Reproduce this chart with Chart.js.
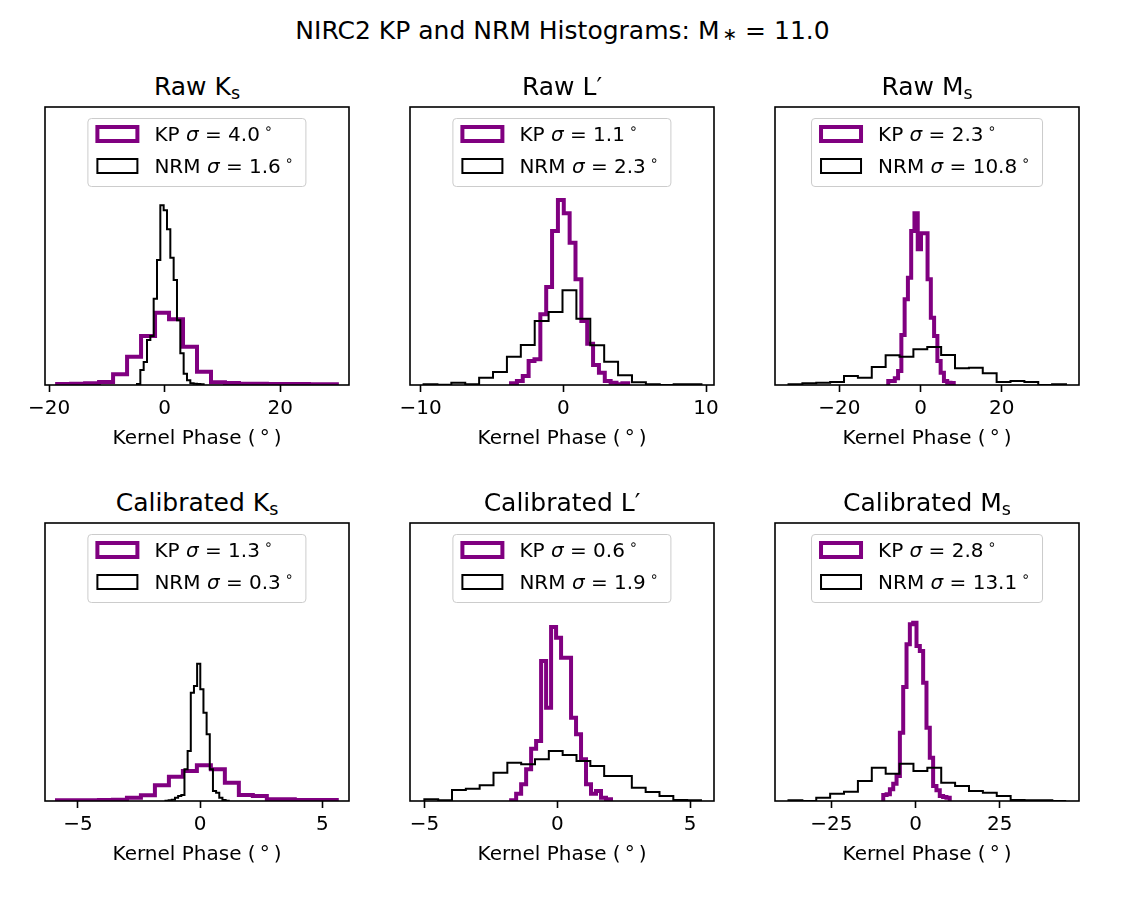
<!DOCTYPE html>
<html>
<head>
<meta charset="utf-8">
<title>NIRC2 KP and NRM Histograms</title>
<script src="https://cdn.jsdelivr.net/npm/chart.js@4.4.1/dist/chart.umd.min.js"></script>
<style>
  body { margin: 0; background: #fff; font-family: "DejaVu Sans", sans-serif; color: #000; }
  #fig { position: relative; width: 1125px; height: 900px; overflow: hidden; }
  #fig canvas { position: absolute; }
  .suptitle { position: absolute; left: 0; width: 1125px; text-align: center; font-size: 25px; line-height: 1; white-space: nowrap; }
  .ptitle { position: absolute; width: 304px; text-align: center; font-size: 25px; line-height: 1; white-space: nowrap; }
  .sub { font-size: 70%; position: relative; top: 0.22em; }
  .star { font-size: 70%; position: relative; top: 0.05em; margin-left: 3px; }
  .legend { position: absolute; transform: translateX(-50%); border: 1px solid #cccccc; border-radius: 4px;
            background: rgba(255,255,255,0.8); padding: 3px 12px 8px 7px; font-size: 20px; }
  .row { display: flex; align-items: center; height: 24px; white-space: nowrap; }
  .row + .row { margin-top: 7.5px; }
  .handle { box-sizing: border-box; margin-right: 15px; }
  .handle.kp { width: 44px; height: 18px; border: 4px solid #800080; }
  .handle.nrm { width: 42px; height: 16px; border: 2px solid #000; margin-left: 1px; margin-right: 16px; }
  .deg { font-size: 14px; position: relative; top: -8px; margin-left: 4px; }
</style>
</head>
<body>
<div id="fig">
  <div class="suptitle" style="top:18px">NIRC2 KP and NRM Histograms: M<span class="star">∗</span> = 11.0</div>
</div>
<script>
// --- Data ---
const panelNames = ['Raw K', 'Raw L', 'Raw M', 'Calibrated K', 'Calibrated L', 'Calibrated M'];
const panelMarks = ['s', '′', 's', 's', '′', 's'];
const tickValues = [[-20, 0, 20], [-10, 0, 10], [-20, 0, 20], [-5, 0, 5], [-5, 0, 5], [-25, 0, 25]];
const xLimits = [[-20.7, 31.9], [-10.74, 10.56], [-35.83, 39.0], [-6.35, 6.09], [-5.55, 5.9], [-41.7, 48.5]];
const kpSigma = ['4.0', '1.1', '2.3', '1.3', '0.6', '2.8'];
const nrmSigma = ['1.6', '2.3', '10.8', '0.3', '1.9', '13.1'];

// histogram ranges (first to last bin edge)
const kpRanges = [[-18.6, 29.8], [-3.66, 4.55], [-7.95, 8.17], [-5.86, 5.59], [-1.74, 2.02], [-9.58, 10.15]];
const nrmRanges = [[-4.78, 6.75], [-9.79, 9.68], [-32.5, 35.8], [-1.42, 1.17], [-5.01, 5.41], [-37.7, 44.7]];

// bin heights (arbitrary units, axis top = yTop)
const yTop = 278;
const rawKsKP = [1.0, 1.3, 1.7, 3.0, 10.7, 28.3, 49.0, 72.3, 65.7, 38.3, 13.3, 2.7, 2.0, 1.3, 1.3, 1.0, 1.0, 1.0, 0.7, 0.7];
const rawKsNRM = [1.0, 15.0, 23.0, 45.0, 49.0, 86.3, 125.0, 179.7, 174.7, 155.7, 127.3, 105.0, 64.7, 31.7, 11.3, 4.7, 1.7, 1.3, 1.0, 0.7];
const rawLpKP = [1.7, 4.0, 9.0, 24.0, 25.7, 70.7, 98.0, 154.0, 185.0, 171.7, 142.3, 105.7, 64.0, 41.3, 20.0, 12.3, 4.0, 2.3, 0.7, 1.7];
const rawLpNRM = [0.7, 0.3, 2.3, 0.7, 7.3, 13.0, 28.3, 40.0, 64.0, 73.0, 94.7, 66.3, 39.7, 23.3, 9.7, 2.7, 0.7, 0, 0.7, 0.7];
const rawMsKP = [4.0, 4.0, 6.7, 14.0, 50.0, 85.7, 107.3, 154.0, 171.7, 135.7, 151.7, 151.7, 105.7, 67.3, 49.0, 24.0, 12.3, 4.0, 2.3, 2.0];
const rawMsNRM = [0.7, 1.7, 2.3, 3.0, 9.0, 7.3, 18.0, 29.7, 28.3, 35.7, 38.0, 30.0, 16.7, 17.3, 11.7, 3.0, 4.0, 3.0, 0, 0.7];
const calKsKP = [0.7, 0.7, 0.7, 1.0, 1.3, 3.3, 5.7, 15.7, 24.3, 30.0, 35.7, 31.7, 18.3, 6.0, 5.0, 1.7, 1.7, 1.0, 1.0, 1.0];
const calKsNRM = [0.3, 0.7, 1.3, 3.3, 5.0, 6.0, 31.7, 50.0, 108.3, 115.0, 137.3, 111.7, 88.3, 66.7, 31.7, 10.0, 8.3, 3.3, 1.0, 0.3];
const calLpKP = [0.7, 7.3, 16.7, 31.7, 52.3, 60.0, 140.0, 93.3, 174.0, 163.3, 143.3, 143.3, 83.3, 66.7, 41.7, 16.7, 7.3, 10.0, 3.3, 1.7];
const calLpNRM = [1.7, 0.7, 11.0, 12.3, 15.7, 28.3, 38.3, 36.7, 41.7, 50.0, 46.0, 40.0, 35.0, 25.0, 25.0, 13.3, 9.0, 5.0, 1.0, 0.7];
const calMsKP = [6.0, 6.7, 11.7, 17.3, 25.0, 68.3, 114.0, 156.7, 176.7, 178.3, 155.0, 150.0, 118.3, 73.3, 43.3, 15.0, 10.7, 5.0, 4.0, 3.3];
const calMsNRM = [0.7, 0, 3.3, 7.3, 9.3, 20.0, 33.3, 27.3, 37.3, 30.0, 33.3, 18.3, 15.0, 10.0, 8.3, 5.0, 1.0, 0.7, 0.7, 0];

const kpCounts = [rawKsKP, rawLpKP, rawMsKP, calKsKP, calLpKP, calMsKP];
const nrmCounts = [rawKsNRM, rawLpNRM, rawMsNRM, calKsNRM, calLpNRM, calMsNRM];

// --- Layout ---
const frameLefts = [45, 410, 775];
const frameTops = [107, 523];
const frameW = 304, frameH = 278;
const padSide = 40, padTop = 4, axisH = 72;

Chart.defaults.font.family = 'DejaVu Sans';
Chart.defaults.color = '#000';

// step outline like matplotlib histtype='step'
function stepPoints(range, counts) {
  const lo = range[0], hi = range[1];
  const w = (hi - lo) / counts.length;
  const pts = [{ x: lo, y: 0 }];
  counts.forEach((c, i) => pts.push({ x: lo + i * w, y: c }));
  pts.push({ x: hi, y: counts[counts.length - 1] });
  pts.push({ x: hi, y: 0 });
  return pts;
}

const fmtTick = v => (v < 0 ? '\u2212' + Math.abs(v) : String(v));

const framePlugin = {
  id: 'frame',
  afterDatasetsDraw(chart) {
    const { ctx, chartArea: a } = chart;
    ctx.save();
    ctx.strokeStyle = '#000';
    ctx.lineWidth = 1.6;
    ctx.strokeRect(a.left, a.top, a.right - a.left, a.bottom - a.top);
    ctx.restore();
  }
};

const fig = document.getElementById('fig');

for (let i = 0; i < 6; i++) {
  const left = frameLefts[i % 3];
  const top = frameTops[Math.floor(i / 3)];

  const canvas = document.createElement('canvas');
  canvas.width = frameW + 2 * padSide;
  canvas.height = padTop + frameH + axisH;
  canvas.style.left = (left - padSide) + 'px';
  canvas.style.top = (top - padTop) + 'px';
  fig.appendChild(canvas);

  // title
  const t = document.createElement('div');
  t.className = 'ptitle';
  t.style.left = left + 'px';
  t.style.top = (top - 33) + 'px';
  t.innerHTML = panelMarks[i] === 's'
    ? panelNames[i] + '<span class="sub">s</span>'
    : panelNames[i] + panelMarks[i];
  fig.appendChild(t);

  // legend
  const lg = document.createElement('div');
  lg.className = 'legend';
  lg.style.left = (left + frameW / 2) + 'px';
  lg.style.top = (top + 11) + 'px';
  lg.innerHTML =
    '<div class="row"><span class="handle kp"></span><span>KP <i>σ</i> = ' + kpSigma[i] + '<span class="deg">∘</span></span></div>' +
    '<div class="row"><span class="handle nrm"></span><span>NRM <i>σ</i> = ' + nrmSigma[i] + '<span class="deg">∘</span></span></div>';
  fig.appendChild(lg);

  new Chart(canvas.getContext('2d'), {
    type: 'line',
    data: {
      datasets: [{
        label: 'KP',
        data: stepPoints(kpRanges[i], kpCounts[i]),
        borderColor: '#800080',
        borderWidth: 4,
        stepped: 'before',
        pointRadius: 0,
        fill: false,
        order: 1
      }, {
        label: 'NRM',
        data: stepPoints(nrmRanges[i], nrmCounts[i]),
        borderColor: '#000000',
        borderWidth: 2,
        stepped: 'before',
        pointRadius: 0,
        fill: false,
        order: 0
      }]
    },
    options: {
      responsive: false,
      animation: false,
      devicePixelRatio: 1,
      layout: { padding: { left: padSide, right: padSide, top: padTop, bottom: 0 } },
      plugins: { legend: { display: false }, tooltip: { enabled: false } },
      scales: {
        x: {
          type: 'linear',
          min: xLimits[i][0],
          max: xLimits[i][1],
          afterBuildTicks: s => { s.ticks = tickValues[i].map(v => ({ value: v })); },
          afterFit: s => { s.height = axisH; },
          border: { display: false },
          grid: { drawOnChartArea: false, drawTicks: true, tickLength: 7, tickWidth: 1.6, tickColor: '#000' },
          ticks: { color: '#000', font: { size: 20 }, padding: 5, maxRotation: 0, autoSkip: false, callback: fmtTick },
          title: { display: true, text: 'Kernel Phase (\u2009°\u2009)', color: '#000', font: { size: 20 }, padding: { top: 0, bottom: 6 } }
        },
        y: { display: false, min: 0, max: yTop }
      }
    },
    plugins: [framePlugin]
  });
}
</script>
</body>
</html>
